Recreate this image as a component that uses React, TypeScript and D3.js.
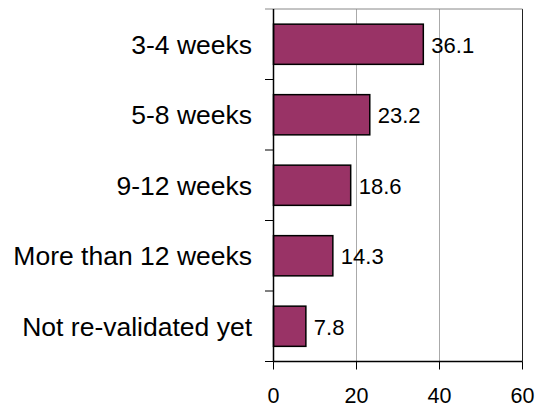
import React from "react";
import * as d3 from "d3";

const categories = ["3-4 weeks", "5-8 weeks", "9-12 weeks", "More than 12 weeks", "Not re-validated yet"];
const values = [36.1, 23.2, 18.6, 14.3, 7.8];
const xTicks = [0, 20, 40, 60];

const W = 543, H = 409;
const left = 273.5, right = 522.5, top = 9, bottom = 361.5;

export default function App() {
  const x = d3.scaleLinear().domain([0, 60]).range([left, right]);
  const y = d3.scaleBand<string>().domain(categories).range([top, bottom]).paddingInner(0.43).paddingOuter(0.215);
  const band = d3.scaleBand<string>().domain(categories).range([top, bottom]);
  const font = "Arial, 'Liberation Sans', sans-serif";
  return (
    <svg width={W} height={H} style={{ position: "absolute", left: 0, top: 0, background: "#fff" }}>
      {xTicks.slice(1).map((t) => (
        <line key={t} x1={x(t)} x2={x(t)} y1={top} y2={bottom} stroke={t === 60 ? "#222" : "#aaa"} strokeWidth={1} />
      ))}
      <line x1={265} x2={right} y1={top} y2={top} stroke="#888" strokeWidth={1} />
      {categories.map((c, i) => (
        <line key={"t" + i} x1={265} x2={left} y1={(band(c) as number) + band.bandwidth()} y2={(band(c) as number) + band.bandwidth()} stroke="#000" strokeWidth={1} />
      ))}
      {categories.map((c, i) => (
        <rect key={c} x={x(0)} y={y(c)} width={x(values[i]) - x(0)} height={y.bandwidth()} fill="#993366" stroke="#000" strokeWidth={1.5} />
      ))}
      <line x1={left} x2={left} y1={top} y2={bottom} stroke="#000" strokeWidth={1.5} />
      <line x1={left} x2={right} y1={bottom} y2={bottom} stroke="#000" strokeWidth={1.5} />
      {xTicks.map((t) => (
        <g key={"x" + t}>
          <line x1={x(t)} x2={x(t)} y1={bottom} y2={bottom + 8} stroke="#000" strokeWidth={1} />
          <text x={x(t)} y={403} textAnchor="middle" fontFamily={font} fontSize={21.5} fill="#000">{t}</text>
        </g>
      ))}
      {categories.map((c) => (
        <text key={"l" + c} x={252} y={(band(c) as number) + band.bandwidth() / 2} dy="0.35em" textAnchor="end" fontFamily={font} fontSize={26.5} fill="#000">{c}</text>
      ))}
      {categories.map((c, i) => (
        <text key={"v" + c} x={x(values[i]) + 8} y={(y(c) as number) + y.bandwidth() / 2 + 1} dy="0.35em" fontFamily={font} fontSize={22} fill="#000">{values[i]}</text>
      ))}
    </svg>
  );
}
